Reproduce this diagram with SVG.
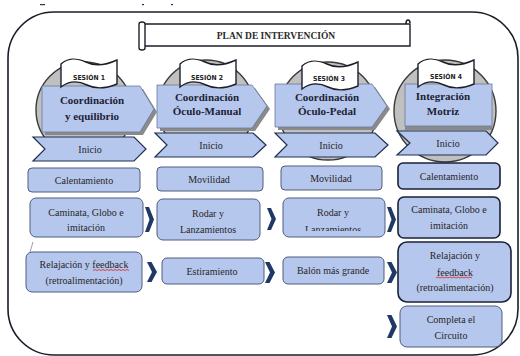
<svg xmlns="http://www.w3.org/2000/svg" width="520" height="356" viewBox="0 0 520 356">
<defs>
<style>
.frame{fill:#fff;stroke:#1c1c28;stroke-width:1.6}
.circ{fill:#c0c0c0;stroke:#3a3a3a;stroke-width:1.4}
.flag{fill:#fff;stroke:#1e1e2a;stroke-width:1.4}
.pent{fill:#b6c7ee;stroke:#6a7898;stroke-width:0.8}
.shadow{fill:#8a8a8a}
.chev{fill:#b6c7ee;stroke:#1f2f52;stroke-width:1.2}
.box{fill:#b6c7ee;stroke:#4e5c7c;stroke-width:1}
.boxd{fill:#b6c7ee;stroke:#1a2238;stroke-width:1.6}
.t{font-family:'Liberation Serif',serif;font-size:10px;fill:#262626;text-anchor:middle}
.h{font-family:'Liberation Serif',serif;font-size:11px;font-weight:bold;fill:#1c2233;text-anchor:middle}
.s{font-family:'DejaVu Sans Condensed','Liberation Sans',sans-serif;font-size:6.8px;font-weight:bold;fill:#222;text-anchor:middle}
.ttl{font-family:'Liberation Serif',serif;font-size:9.5px;font-weight:bold;fill:#2a2a2a;text-anchor:middle}
.br{fill:#1f3864}
.sq{fill:none;stroke:#e02020;stroke-width:0.8}
</style>
<path id="flagp" d="M0,5 C8,-2 16,-1 25,3 C33,7 43,7 56,1 L56,25 C44,30 34,30 26,26 C18,22 9,21 0,28 Z"/>
<clipPath id="c3"><rect x="283" y="198" width="102" height="33"/></clipPath>
</defs>

<g id="marks" fill="#333">
<rect x="40" y="4" width="5" height="1.2"/>
<rect x="142" y="4" width="2" height="1.2"/>
<rect x="171" y="4" width="2" height="1.2"/>
</g>

<rect id="frame" class="frame" x="8" y="12" width="510" height="343" rx="46" ry="46"/>

<g id="title">
<path d="M143,24 L410,24 L410,46 L143,46 Z" fill="#fff" stroke="#1e1e2a" stroke-width="1.4"/>
<path d="M139,24 Q139,22 142,22 Q145,22 145,24 L145,48 Q145,50 142,50 Q139,50 139,48 Z" fill="#fff" stroke="#1e1e2a" stroke-width="1.4"/>
<path d="M406,24 Q406,20 408,20 Q410,20 410,23" fill="none" stroke="#1e1e2a" stroke-width="1.6"/>
<text class="ttl" font-family="Liberation Serif, serif" x="276" y="39">PLAN DE INTERVENCIÓN</text>
</g>

<g id="session1">
<circle class="circ" cx="84" cy="110" r="48"/>
<polygon class="shadow" points="45,89 143,89 157,112 143,135 45,135"/>
<polygon class="pent" points="42,86 140,86 154,109 140,132 42,132"/>
<use href="#flagp" class="flag" x="61" y="59"/>
<text class="s" x="89" y="80">SESIÓN 1</text>
<text class="h" font-family="Liberation Serif, serif" x="92" y="104">Coordinación</text>
<text class="h" font-family="Liberation Serif, serif" x="92" y="120">y equilibrio</text>
<polygon class="chev" points="33,137 134,137 146,149 134,161 33,161 45,149"/>
<text class="t" font-family="Liberation Serif, serif" x="90" y="153">Inicio</text>
</g>

<g id="session2">
<circle class="circ" cx="206" cy="108" r="48"/>
<polygon class="shadow" points="160,88 255,88 270,109 255,131 160,131"/>
<polygon class="pent" points="157,85 252,85 267,106 252,128 157,128"/>
<use href="#flagp" class="flag" x="180" y="59"/>
<text class="s" x="207" y="80">SESIÓN 2</text>
<text class="h" font-family="Liberation Serif, serif" x="207" y="101">Coordinación</text>
<text class="h" font-family="Liberation Serif, serif" x="207" y="115">Óculo-Manual</text>
<polygon class="chev" points="155,133 253,133 266,145 253,157 155,157 167,145"/>
<text class="t" font-family="Liberation Serif, serif" x="211" y="149">Inicio</text>
</g>

<g id="session3">
<circle class="circ" cx="328" cy="111" r="49"/>
<polygon class="shadow" points="278,87 375,87 390,109 375,130 278,130"/>
<polygon class="pent" points="275,84 372,84 387,106 372,127 275,127"/>
<use href="#flagp" class="flag" x="302" y="61"/>
<text class="s" x="329" y="81">SESIÓN 3</text>
<text class="h" font-family="Liberation Serif, serif" x="327" y="101">Coordinación</text>
<text class="h" font-family="Liberation Serif, serif" x="327" y="115">Óculo-Pedal</text>
<polygon class="chev" points="275,133 375,133 388,145 375,157 275,157 287,145"/>
<text class="t" font-family="Liberation Serif, serif" x="331" y="149">Inicio</text>
</g>

<g id="session4">
<circle class="circ" cx="445" cy="111" r="51"/>
<rect class="shadow" x="405" y="125" width="87" height="5"/>
<rect class="pent" x="405" y="84" width="87" height="42"/>
<use href="#flagp" class="flag" x="418" y="59"/>
<text class="s" x="446" y="79">SESIÓN 4</text>
<text class="h" font-family="Liberation Serif, serif" x="443" y="100">Integración</text>
<text class="h" font-family="Liberation Serif, serif" x="443" y="115">Motriz</text>
<polygon class="chev" points="397,131 486,131 498,143 486,155 397,155 410,143"/>
<text class="t" font-family="Liberation Serif, serif" x="448" y="147">Inicio</text>
</g>

<g font-family="Liberation Serif, serif">
<g id="s1-calentamiento"><rect class="box" x="28" y="168" width="112" height="24" rx="4"/><text class="t" x="84" y="184">Calentamiento</text></g>
<g id="s2-movilidad"><rect class="box" x="157" y="167" width="106" height="24" rx="4"/><text class="t" x="209" y="183">Movilidad</text></g>
<g id="s3-movilidad"><rect class="box" x="281" y="166" width="101" height="24" rx="4"/><text class="t" x="331" y="182">Movilidad</text></g>
<g id="s4-calentamiento"><rect class="boxd" x="398" y="163" width="102" height="26" rx="5"/><text class="t" x="449" y="180">Calentamiento</text></g>

<g id="s1-caminata"><rect class="box" x="30" y="198" width="113" height="39" rx="6"/><text class="t" x="86" y="216">Caminata, Globo e</text><text class="t" x="86" y="231">imitación</text></g>
<g id="s2-rodar"><rect class="box" x="157" y="199" width="103" height="41" rx="6"/><text class="t" x="208" y="217">Rodar y</text><text class="t" x="208" y="233">Lanzamientos</text></g>
<g id="s3-rodar"><rect class="box" x="283" y="198" width="102" height="39" rx="6"/><text class="t" x="333" y="216">Rodar y</text><text class="t" x="333" y="233" clip-path="url(#c3)">Lanzamientos</text></g>
<g id="s4-caminata"><rect class="boxd" x="398" y="197" width="102" height="41" rx="6"/><text class="t" x="449" y="213">Caminata, Globo e</text><text class="t" x="449" y="229">imitación</text></g>

<g id="s1-relajacion"><line x1="33" y1="242" x2="30" y2="252" stroke="#888" stroke-width="0.8"/><rect class="box" x="26" y="252" width="116" height="40" rx="6"/><text class="t" x="84" y="268">Relajación y feedback</text><text class="t" x="84" y="284">(retroalimentación)</text><path class="sq" d="M93,270.5 l2,-1 l2,1 l2,-1 l2,1 l2,-1 l2,1 l2,-1 l2,1 l2,-1 l2,1 l2,-1 l2,1 l2,-1 l2,1 l2,-1 l2,1 l2,-1 l2,1"/></g>
<g id="s2-estiramiento"><rect class="box" x="162" y="258" width="102" height="26" rx="5"/><text class="t" x="212" y="275">Estiramiento</text></g>
<g id="s3-balon"><rect class="box" x="283" y="257" width="101" height="27" rx="5"/><text class="t" x="333" y="274">Balón más grande</text></g>
<g id="s4-relajacion"><rect class="boxd" x="398" y="242" width="113" height="60" rx="9"/><text class="t" x="455" y="259">Relajación y</text><text class="t" x="455" y="276">feedback</text><text class="t" x="455" y="291">(retroalimentación)</text><path class="sq" d="M436,278 l2,-1 l2,1 l2,-1 l2,1 l2,-1 l2,1 l2,-1 l2,1 l2,-1 l2,1 l2,-1 l2,1 l2,-1 l2,1 l2,-1 l2,1 l2,-1 l2,1"/></g>
<g id="s4-completa"><rect class="box" x="400" y="306" width="102" height="41" rx="7" stroke="#2a3552" stroke-width="1.3"/><text class="t" x="451" y="323">Completa el</text><text class="t" x="451" y="339">Circuito</text></g>
</g>

<g id="connectors" class="br">
<polygon points="145,207 149,207 154,219.5 149,232 145,232 149.5,219.5"/>
<polygon points="267,208 271,208 276,219 271,230 267,230 271.5,219"/>
<polygon points="387,207 391,207 396,219.5 391,232 387,232 391.5,219.5"/>
<polygon points="147,262 151.5,262 157,272 151.5,282 147,282 152,272"/>
<polygon points="265,262 269.5,262 275,272.5 269.5,283 265,283 270,272.5"/>
<polygon points="387,262 391.5,262 397,272.5 391.5,283 387,283 392,272.5"/>
<polygon points="387,315 391.5,315 397,326.5 391.5,338 387,338 392,326.5"/>
</g>
</svg>
